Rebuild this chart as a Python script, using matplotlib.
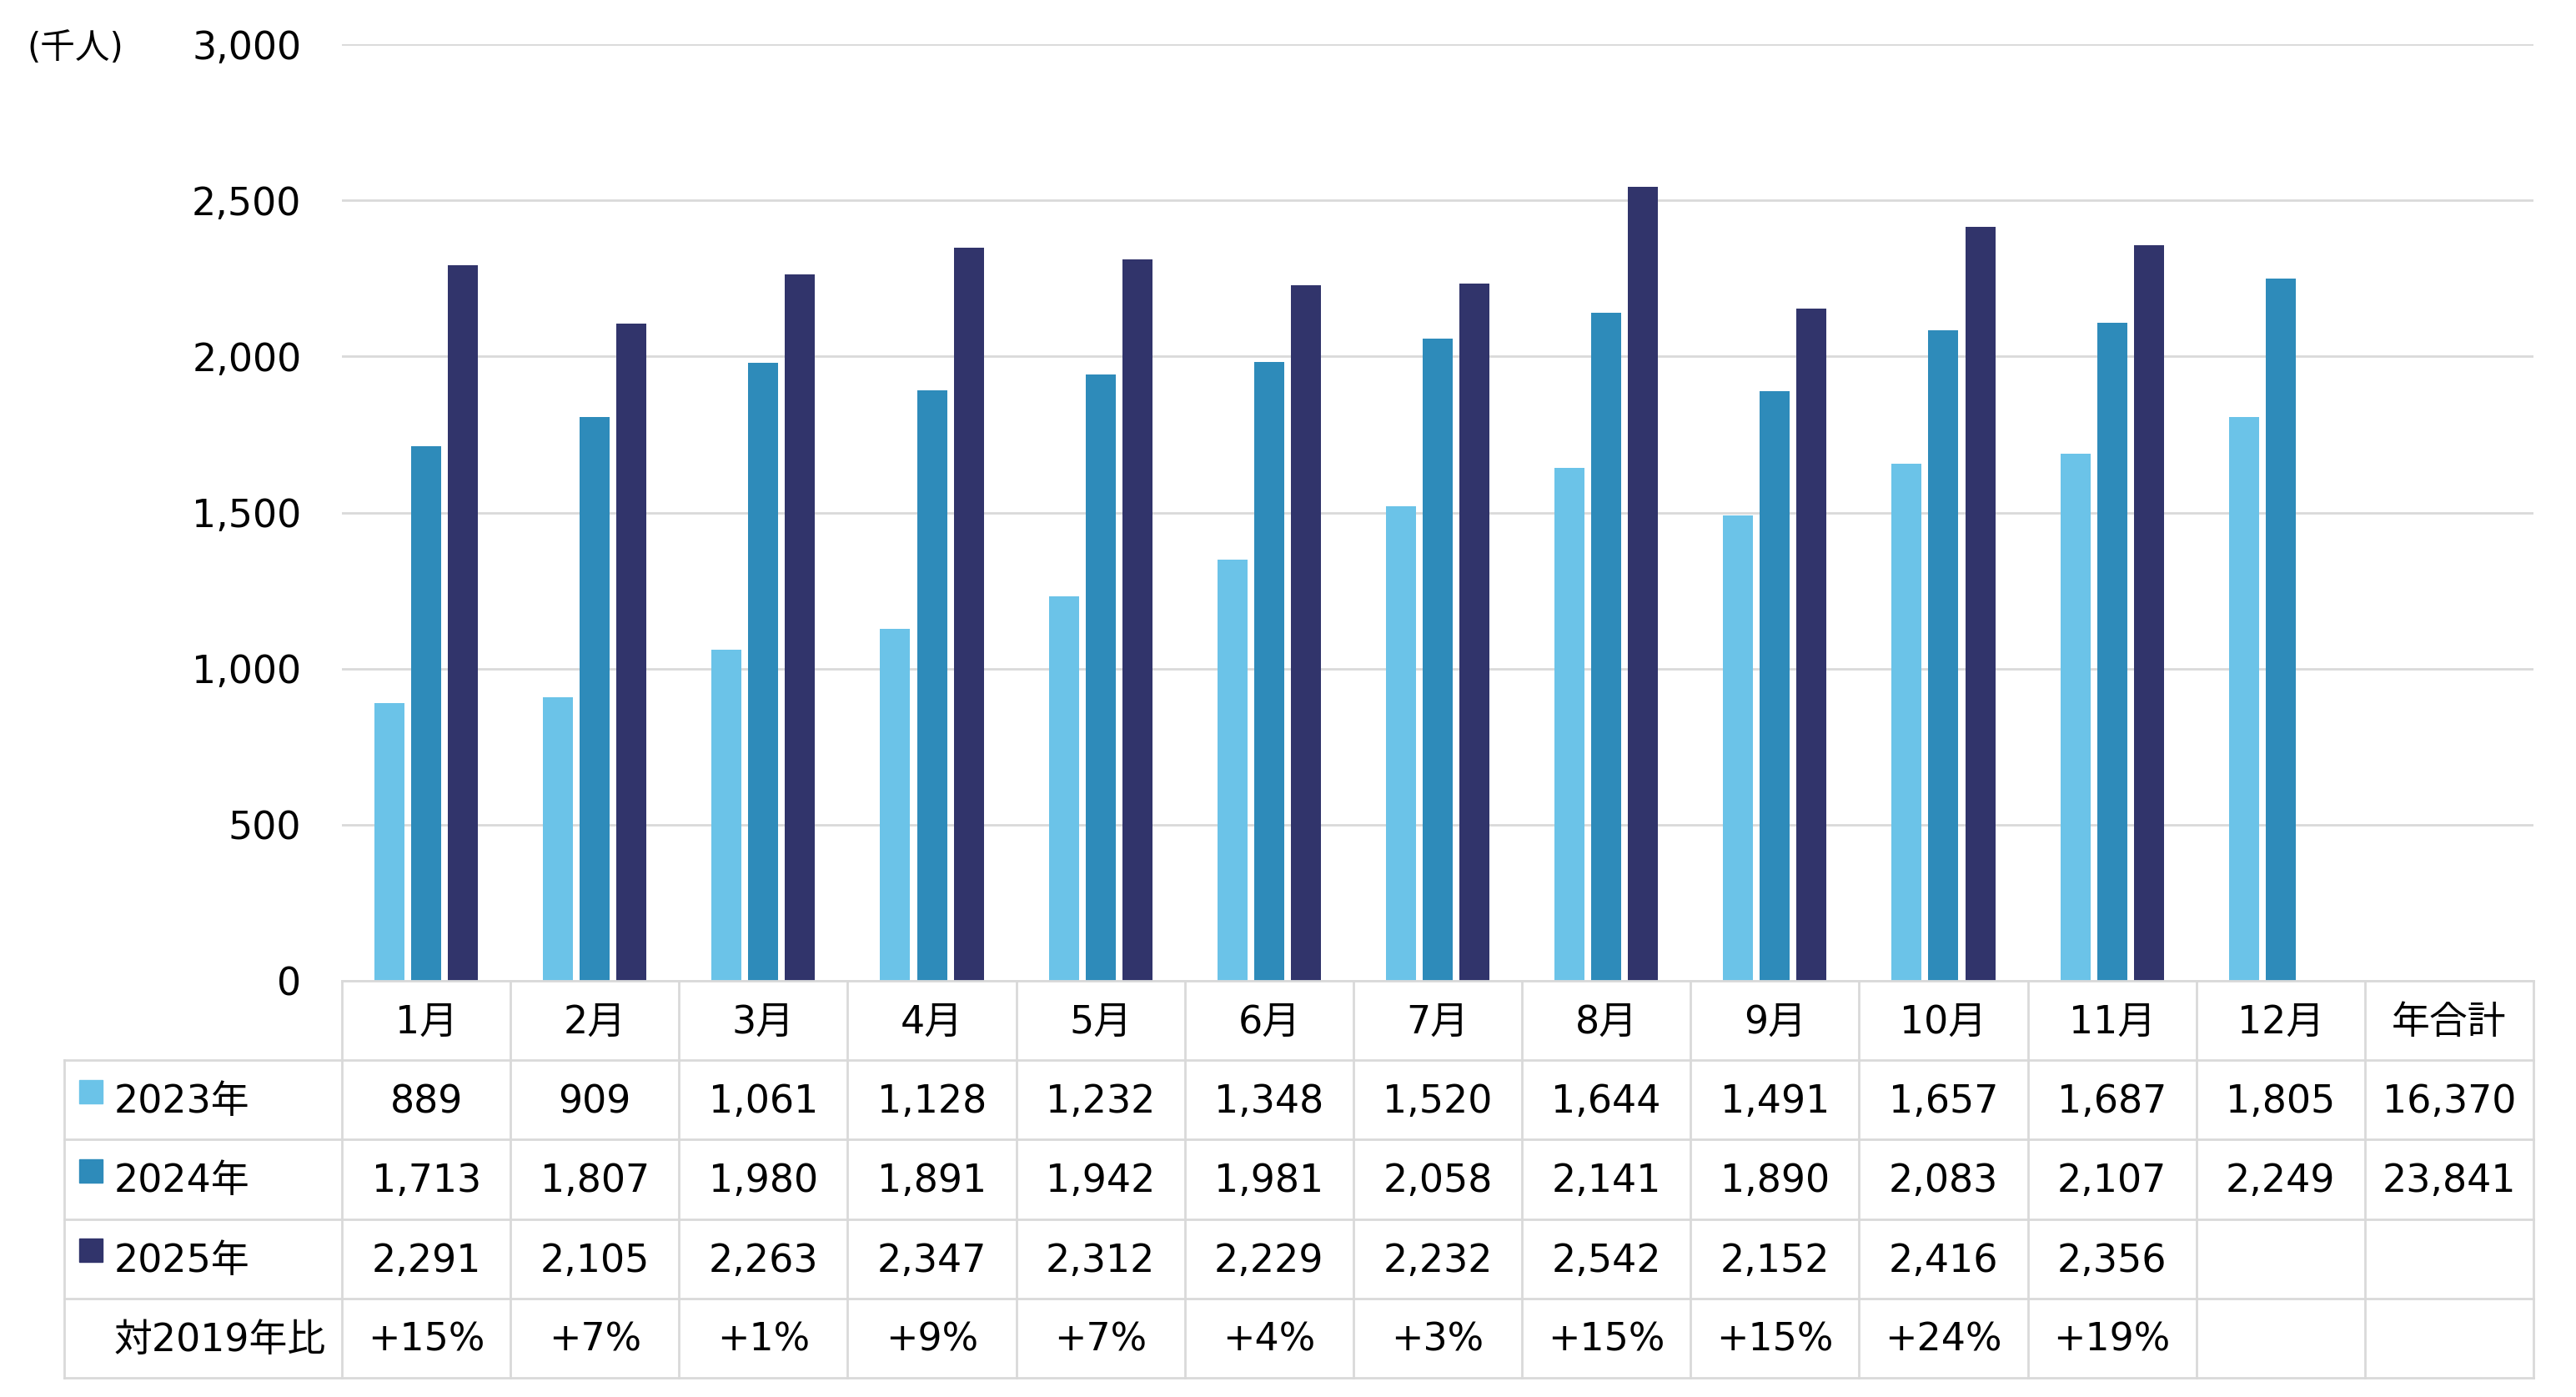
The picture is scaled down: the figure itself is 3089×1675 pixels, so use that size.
import numpy as np
import matplotlib
matplotlib.use("Agg")
import matplotlib.pyplot as plt
from matplotlib.patches import Rectangle

plt.rcParams['font.family'] = ['DejaVu Sans', 'Noto Sans CJK JP']

# データ（千人）
months = ["1月", "2月", "3月", "4月", "5月", "6月", "7月", "8月", "9月", "10月", "11月", "12月"]
v2023 = [889, 909, 1061, 1128, 1232, 1348, 1520, 1644, 1491, 1657, 1687, 1805]
v2024 = [1713, 1807, 1980, 1891, 1942, 1981, 2058, 2141, 1890, 2083, 2107, 2249]
v2025 = [2291, 2105, 2263, 2347, 2312, 2229, 2232, 2542, 2152, 2416, 2356]
ratio_2019 = [15, 7, 1, 9, 7, 4, 3, 15, 15, 24, 19]
total_label = "年合計"
total_2023 = 16370
total_2024 = 23841
series_names = ["2023年", "2024年", "2025年"]
colors = ["#6BC3E8", "#2E8BBA", "#31346B"]
grid_c = "#D9D9D9"

W, H = 3089, 1675
fig = plt.figure(figsize=(W / 100, H / 100), dpi=100)

# 棒グラフ部分
x_left, x_right = 410, 3038
y_top, y_zero = 53, 1176
ax = fig.add_axes([x_left / W, 1 - y_zero / H, (x_right - x_left) / W, (y_zero - y_top) / H])
ncol = len(months) + 1
ax.set_xlim(-0.5, ncol - 0.5)
ax.set_ylim(0, 3000)

bw = 0.178
off = 0.218
x = np.arange(len(months))
ax.bar(x - off, v2023, bw, color=colors[0], zorder=3)
ax.bar(x, v2024, bw, color=colors[1], zorder=3)
ax.bar(np.arange(len(v2025)) + off, v2025, bw, color=colors[2], zorder=3)

ax.set_yticks(np.arange(0, 3001, 500))
ax.set_yticklabels([f"{t:,}" for t in range(0, 3001, 500)], fontsize=33)
ax.tick_params(axis="y", length=0, pad=35)
ax.set_xticks([])
ax.grid(axis="y", color=grid_c, lw=2, zorder=0)
for s in ax.spines.values():
    s.set_visible(False)

fig.text(32 / W, 1 - 58 / H, "(千人)", fontsize=30, ha="left", va="center")

# 表部分
t_left, t_bottom = 77, 1652
cw = (x_right - x_left) / ncol
tab = fig.add_axes([t_left / W, 1 - t_bottom / H, (x_right - t_left) / W, (t_bottom - y_zero) / H])
lab_left = -0.5 - (x_left - t_left) / cw
tab.set_xlim(lab_left, ncol - 0.5)
tab.set_ylim(5, 0)
tab.axis("off")

lkw = dict(color=grid_c, lw=2, solid_capstyle="projecting", clip_on=False)
tab.plot([-0.5, ncol - 0.5], [0, 0], **lkw)
for r in range(1, 6):
    tab.plot([lab_left, ncol - 0.5], [r, r], **lkw)
for c in range(ncol + 1):
    tab.plot([c - 0.5, c - 0.5], [0, 5], **lkw)
tab.plot([lab_left, lab_left], [1, 5], **lkw)

fs = 33
dy = 0.53
header = months + [total_label]
for c, h in enumerate(header):
    tab.text(c, dy, h, ha="center", va="center", fontsize=fs)

rows = [v2023 + [total_2023], v2024 + [total_2024], v2025]
for r, vals in enumerate(rows):
    for c, v in enumerate(vals):
        tab.text(c, r + 1 + dy, f"{v:,}", ha="center", va="center", fontsize=fs)
for c, v in enumerate(ratio_2019):
    tab.text(c, 4 + dy, f"+{v}%", ha="center", va="center", fontsize=fs)

sq_w = 28 / cw
sq_h = 28 / ((t_bottom - y_zero) / 5)
for r, (name, col) in enumerate(zip(series_names, colors)):
    tab.add_patch(Rectangle((lab_left + 18 / cw, r + 1 + 0.25), sq_w, sq_h, color=col, clip_on=False))
    tab.text(lab_left + 60 / cw, r + 1 + dy, name, ha="left", va="center", fontsize=fs)
tab.text(lab_left + 60 / cw, 4 + dy, "対2019年比", ha="left", va="center", fontsize=fs)

fig.savefig("out.png", dpi=100, facecolor="white")
